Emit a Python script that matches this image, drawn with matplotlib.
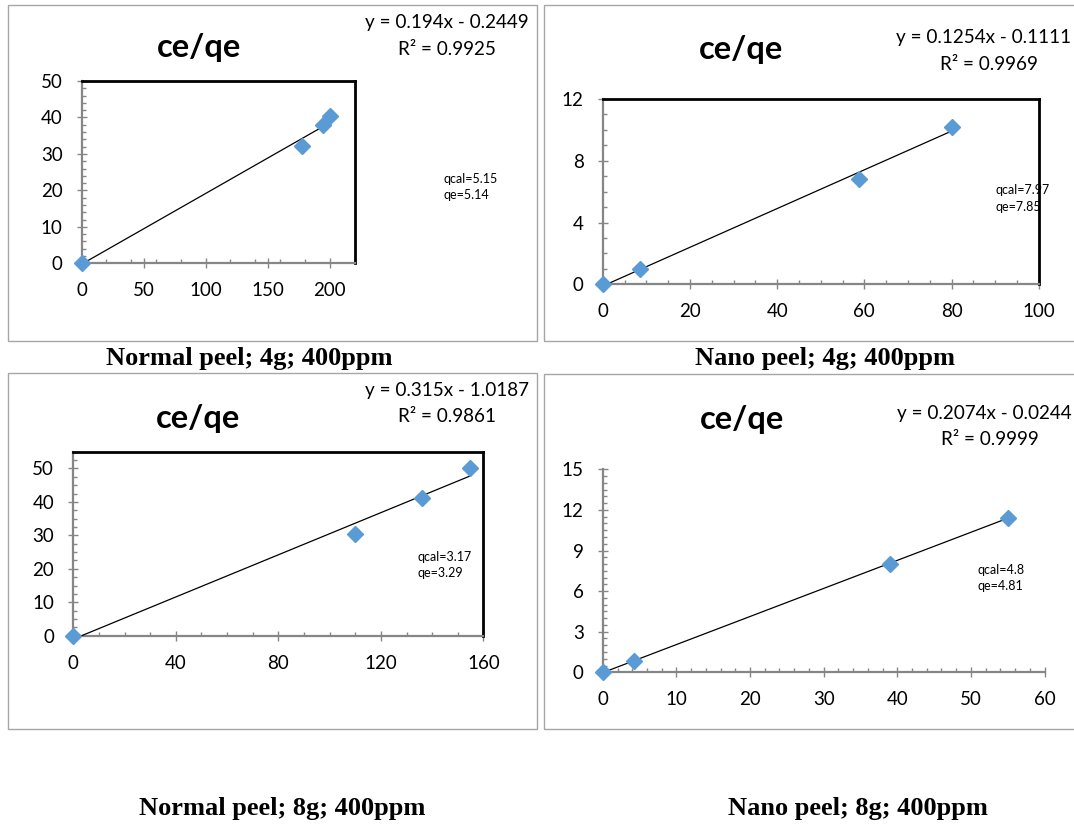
import matplotlib
matplotlib.use("Agg")
import matplotlib.pyplot as plt
from matplotlib.ticker import MultipleLocator
from matplotlib.patches import Rectangle
import numpy as np

plt.rcParams['font.family'] = ['Lato', 'DejaVu Sans']

# ---------------- data ----------------
p1_x = [0, 177.8, 194.5, 200.3]
p1_y = [0, 32.1, 37.9, 40.4]
p1_fit = (0.194, -0.2449)
p1_eq = "y = 0.194x - 0.2449"
p1_r2 = "R² = 0.9925"
p1_note = "qcal=5.15\nqe=5.14"
p1_caption = "Normal peel; 4g; 400ppm"

p2_x = [0, 8.5, 58.75, 80.1]
p2_y = [0, 0.97, 6.84, 10.2]
p2_fit = (0.1254, -0.1111)
p2_eq = "y = 0.1254x - 0.1111"
p2_r2 = "R² = 0.9969"
p2_note = "qcal=7.97\nqe=7.85"
p2_caption = "Nano peel; 4g; 400ppm"

p3_x = [0, 110.0, 136.1, 154.9]
p3_y = [0, 30.3, 41.1, 50.2]
p3_fit = (0.315, -1.0187)
p3_eq = "y = 0.315x - 1.0187"
p3_r2 = "R² = 0.9861"
p3_note = "qcal=3.17\nqe=3.29"
p3_caption = "Normal peel; 8g; 400ppm"

p4_x = [0, 4.23, 38.98, 55.04]
p4_y = [0, 0.86, 8.0, 11.43]
p4_fit = (0.2074, -0.0244)
p4_eq = "y = 0.2074x - 0.0244"
p4_r2 = "R² = 0.9999"
p4_note = "qcal=4.8\nqe=4.81"
p4_caption = "Nano peel; 8g; 400ppm"

chart_title = "ce/qe"

# ---------------- layout ----------------
W, H = 1074, 825
fig = plt.figure(figsize=(W / 100, H / 100), dpi=100)

def ax_rect(l, t, r, b):
    return [l / W, 1 - b / H, (r - l) / W, (b - t) / H]

def ftext(x, y, s, **kw):
    fig.text(x / W, 1 - y / H, s, **kw)

GREY = '#868686'
BLUE = '#5B9BD5'

panels = [
    dict(x=p1_x, y=p1_y, fit=p1_fit, eq=p1_eq, r2=p1_r2, note=p1_note, cap=p1_caption,
         rect=(81.6, 81, 354.5, 263.3), xlim=(0, 220), ylim=(0, 50),
         xmaj=50, xmin=20, ymaj=10, ymin=2, frame=True,
         border=(7.6, 5, 536.5, 341), title=(199, 47), eqc=(446.5, 22.7, 446.5, 49.3),
         notep=(444, 187), capp=(249, 359)),
    dict(x=p2_x, y=p2_y, fit=p2_fit, eq=p2_eq, r2=p2_r2, note=p2_note, cap=p2_caption,
         rect=(602.8, 99, 1038.7, 284.3), xlim=(0, 100), ylim=(0, 12),
         xmaj=20, xmin=5, ymaj=4, ymin=1, frame=True,
         border=(544, 5, 1085, 341), title=(741, 50), eqc=(984, 38, 989, 64),
         notep=(995, 198.5), capp=(825, 359)),
    dict(x=p3_x, y=p3_y, fit=p3_fit, eq=p3_eq, r2=p3_r2, note=p3_note, cap=p3_caption,
         rect=(73.3, 451.7, 483.4, 635.7), xlim=(0, 160), ylim=(0, 55),
         xmaj=40, xmin=10, ymaj=10, ymin=2.5, frame=True,
         border=(7.6, 373, 536.5, 729), title=(198, 418), eqc=(447, 390.7, 447, 416.7),
         notep=(417, 565), capp=(282.5, 808)),
    dict(x=p4_x, y=p4_y, fit=p4_fit, eq=p4_eq, r2=p4_r2, note=p4_note, cap=p4_caption,
         rect=(602.8, 469.3, 1044.5, 672.3), xlim=(0, 60), ylim=(0, 15),
         xmaj=10, xmin=2, ymaj=3, ymin=0.5, frame=False,
         border=(544, 374, 1085, 729), title=(742, 420), eqc=(984, 413.3, 989.4, 439.3),
         notep=(978, 578), capp=(858, 808)),
]

for p in panels:
    bl, bt, br, bb = p['border']
    fig.patches.append(Rectangle((bl / W, 1 - bb / H), (br - bl) / W, (bb - bt) / H,
                                 transform=fig.transFigure, fill=False,
                                 edgecolor='#A6A6A6', linewidth=1.0, zorder=0))

    ax = fig.add_axes(ax_rect(*p['rect']))
    ax.set_xlim(*p['xlim'])
    ax.set_ylim(*p['ylim'])
    ax.patch.set_alpha(0)

    xs = np.array(p['x'])
    m, c = p['fit']
    xl = np.array([xs.min(), xs.max()])
    ax.plot(xl, m * xl + c, color='black', linewidth=0.9, zorder=3)
    ax.plot(xs, p['y'], linestyle='none', marker='D', markersize=8,
            color=BLUE, markeredgecolor=BLUE, clip_on=False, zorder=4)

    for s in ['left', 'bottom']:
        ax.spines[s].set_color(GREY)
        ax.spines[s].set_linewidth(1.6)
    for s in ['top', 'right']:
        if p['frame']:
            ax.spines[s].set_color('black')
            ax.spines[s].set_linewidth(2.0)
        else:
            ax.spines[s].set_visible(False)

    ax.xaxis.set_major_locator(MultipleLocator(p['xmaj']))
    ax.xaxis.set_minor_locator(MultipleLocator(p['xmin']))
    ax.yaxis.set_major_locator(MultipleLocator(p['ymaj']))
    ax.yaxis.set_minor_locator(MultipleLocator(p['ymin']))
    ax.tick_params(which='major', direction='inout', length=7.5, width=1.0,
                   color=GREY, labelsize=13.5, pad=10, labelcolor='black')
    ax.tick_params(which='minor', direction='in', length=3.2, width=1.0, color=GREY)
    ax.tick_params(top=False, right=False, which='both')

    tx, ty = p['title']
    ftext(tx, ty, chart_title, ha='center', va='center', fontsize=23.5, fontweight='bold')
    ex1, ey1, ex2, ey2 = p['eqc']
    ftext(ex1, ey1, p['eq'], ha='center', va='center', fontsize=13.6)
    ftext(ex2, ey2, p['r2'], ha='center', va='center', fontsize=13.6)
    nx, ny = p['notep']
    ftext(nx, ny, p['note'], ha='left', va='center', fontsize=9, linespacing=1.45)
    cx, cy = p['capp']
    ftext(cx, cy, p['cap'], ha='center', va='center', fontsize=19, fontweight='bold',
          family='Liberation Serif')

fig.savefig('out.png', dpi=100)
